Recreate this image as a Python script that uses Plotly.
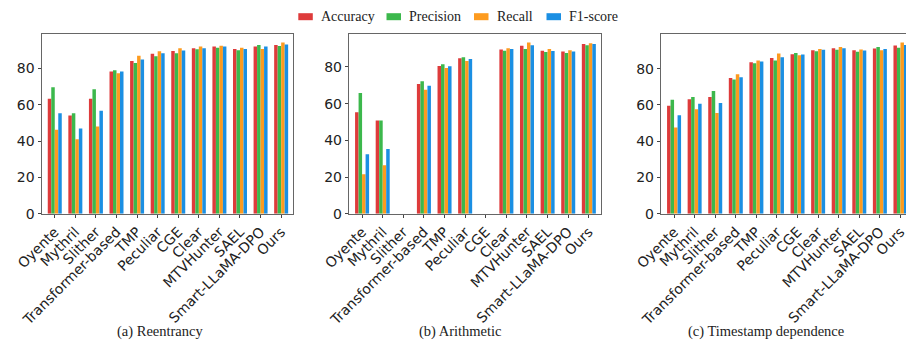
import plotly.graph_objects as go

methods = ["Oyente", "Mythril", "Slither", "Transformer-based", "TMP", "Peculiar",
           "CGE", "Clear", "MTVHunter", "SAEL", "Smart-LLaMA-DPO", "Ours"]
metrics = ["Accuracy", "Precision", "Recall", "F1-score"]
colors = ["#de3b3b", "#3cb84c", "#fd9b1f", "#1b8fe3"]

# (a) Reentrancy
reen_acc = [63.2, 54.0, 63.2, 78.2, 84.0, 87.9, 89.5, 91.0, 91.9, 90.6, 91.9, 92.8]
reen_pre = [69.6, 55.3, 68.4, 78.9, 82.9, 86.6, 88.2, 90.4, 91.3, 89.9, 92.8, 92.2]
reen_rec = [46.2, 41.0, 48.0, 77.3, 86.8, 89.3, 91.0, 91.9, 92.4, 91.3, 90.6, 94.1]
reen_f1 = [55.3, 46.9, 56.6, 78.2, 84.8, 88.2, 89.7, 91.0, 91.9, 90.6, 91.9, 93.0]

# (b) Arithmetic (Slither and CGE have no result)
arit_acc = [55.3, 50.9, None, 70.7, 80.5, 84.7, None, 89.5, 91.5, 88.9, 88.4, 92.5]
arit_pre = [65.8, 50.9, None, 72.2, 81.5, 85.3, None, 88.9, 89.8, 88.2, 87.6, 91.8]
arit_rec = [21.5, 26.5, None, 67.6, 79.5, 83.3, None, 90.2, 93.3, 89.8, 89.1, 92.9]
arit_f1 = [32.4, 35.3, None, 69.8, 80.4, 84.4, None, 89.8, 91.8, 88.7, 88.4, 92.5]

# (c) Timestamp dependence
time_acc = [59.6, 63.1, 64.4, 74.9, 83.6, 85.9, 88.0, 90.2, 91.3, 90.2, 91.1, 92.8]
time_pre = [62.9, 64.4, 67.7, 74.0, 83.0, 84.5, 88.7, 89.6, 90.5, 89.3, 91.9, 91.5]
time_rec = [47.6, 57.6, 55.6, 76.9, 84.5, 88.4, 87.4, 90.9, 92.0, 90.6, 90.2, 94.4]
time_f1 = [54.3, 60.7, 61.1, 75.3, 83.9, 86.3, 87.8, 90.4, 91.3, 90.0, 90.9, 93.1]

panels = [
    ("(a) Reentrancy", [reen_acc, reen_pre, reen_rec, reen_f1]),
    ("(b) Arithmetic", [arit_acc, arit_pre, arit_rec, arit_f1]),
    ("(c) Timestamp dependence", [time_acc, time_pre, time_rec, time_f1]),
]

W, H = 909, 342
x_domains_px = [(42, 293.3), (349.3, 601), (661.3, 906)]
y_top_px, y_bot_px = 34, 213.8
cat_range = [-0.62, 11.59]
px_per_cat = (293.3 - 42) / (cat_range[1] - cat_range[0])
caption_x_px = [160, 460, 766]

fig = go.Figure()
tick_font = dict(family="DejaVu Sans", size=14, color="#222")

for i, (caption, series) in enumerate(panels):
    ax = "" if i == 0 else str(i + 1)
    for name, vals, col in zip(metrics, series, colors):
        fig.add_trace(go.Bar(
            x=list(range(len(methods))), y=vals, name=name,
            marker=dict(color=col, line=dict(width=0)),
            xaxis="x" + ax, yaxis="y" + ax, showlegend=False,
        ))
    x0, x1 = x_domains_px[i]
    if i == 2:
        rng = [cat_range[0], cat_range[0] + (x1 - x0) / px_per_cat]
    else:
        rng = cat_range
    vmax = max(v for s in series for v in s if v is not None)
    fig.layout["xaxis" + ax] = dict(
        domain=[x0 / W, min(x1 / W, 1)], range=rng, anchor="y" + ax,
        tickmode="array", tickvals=list(range(len(methods))), ticktext=methods,
        tickangle=-45, tickfont=tick_font, ticks="outside", ticklen=3.5,
        tickcolor="#444", showline=True, linecolor="#666", linewidth=1,
        mirror=True, showgrid=False, zeroline=False, automargin=False,
        ticklabeloverflow="allow",
    )
    fig.layout["yaxis" + ax] = dict(
        domain=[1 - y_bot_px / H, 1 - y_top_px / H], range=[0, vmax * 1.05],
        anchor="x" + ax, tickvals=[0, 20, 40, 60, 80], tickfont=tick_font,
        ticks="outside", ticklen=3.5, tickcolor="#444", showline=True,
        linecolor="#666", linewidth=1, mirror=(i != 2), showgrid=False,
        zeroline=False, automargin=False,
    )
    fig.add_annotation(
        text=caption, xref="paper", yref="paper", x=caption_x_px[i] / W,
        y=1 - 331.7 / H, xanchor="center", yanchor="middle", showarrow=False,
        font=dict(family="Liberation Serif", size=14.5, color="#222"),
    )

# custom legend
legend_patch_px = [298.3, 386.5, 474, 546.5]
for name, col, px in zip(metrics, colors, legend_patch_px):
    fig.add_shape(type="rect", xref="paper", yref="paper",
                  x0=px / W, x1=(px + 14.5) / W, y0=1 - 20.2 / H, y1=1 - 13.2 / H,
                  fillcolor=col, line=dict(width=0))
    fig.add_annotation(
        text=name, xref="paper", yref="paper", x=(px + 20.5) / W, y=1 - 16.5 / H,
        xanchor="left", yanchor="middle", showarrow=False,
        font=dict(family="Liberation Serif", size=14, color="#222"),
    )

fig.update_layout(
    width=W, height=H, margin=dict(l=0, r=0, t=0, b=0),
    barmode="group", bargap=0.32, bargroupgap=0,
    plot_bgcolor="white", paper_bgcolor="white",
)

fig.write_html(
    "out.html",
    config={"displayModeBar": False},
    post_script="document.body.style.margin='0';document.body.style.overflow='hidden';",
)
